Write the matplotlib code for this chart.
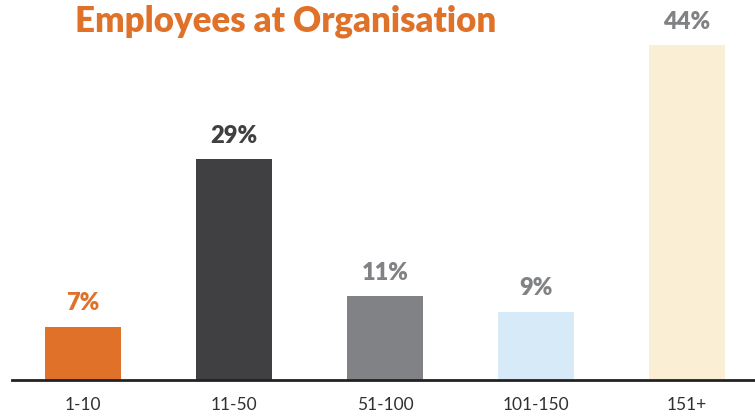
import matplotlib.pyplot as plt

categories = ["1-10", "11-50", "51-100", "101-150", "151+"]
values = [7, 29, 11, 9, 44]
bar_colors = ["#E07128", "#404042", "#808285", "#D6EAF7", "#FAEFD4"]
label_colors = ["#E07128", "#404042", "#808285", "#808285", "#808285"]

plt.rcParams['font.family'] = ['Lato', 'DejaVu Sans']

fig = plt.figure(figsize=(7.55, 4.18), dpi=100)
ax = fig.add_axes([12 / 755, 38 / 418, 1 - 12 / 755, 1 - 38 / 418 - 15 / 418])

x = range(len(categories))
ax.bar(x, values, width=0.5, color=bar_colors)

for i, v in enumerate(values):
    ax.annotate(f"{v}%", (i, v), xytext=(0, 9), textcoords="offset points",
                ha="center", va="bottom", fontsize=17, fontweight="heavy",
                color=label_colors[i])

ax.set_xlim(-0.47, 4.45)
ax.set_ylim(0, 48)
ax.set_xticks(list(x))
ax.set_xticklabels(categories, fontsize=12.5, color="#303030")
ax.tick_params(axis="x", length=0, pad=12)
ax.set_yticks([])
for s in ["top", "right", "left"]:
    ax.spines[s].set_visible(False)
ax.spines["bottom"].set_linewidth(2)
ax.spines["bottom"].set_color("#222222")

fig.text(75 / 755, 1 - 4 / 418, "Employees at Organisation", ha="left", va="top",
         fontsize=25, fontweight="heavy", color="#E07128")

fig.savefig("out.png", dpi=100)
